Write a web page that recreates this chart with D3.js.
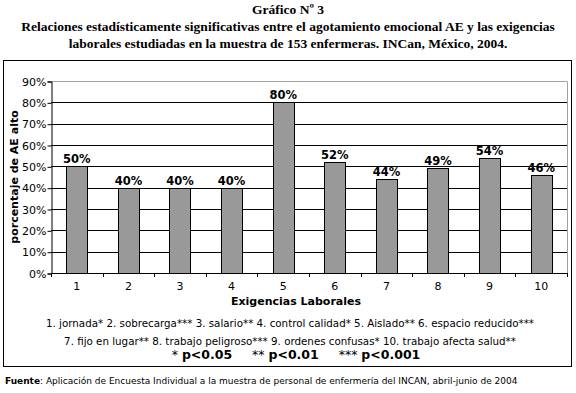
<!DOCTYPE html>
<html>
<head>
<meta charset="utf-8">
<script src="https://cdn.jsdelivr.net/npm/d3@7"></script>
<style>
  body { margin: 0; background: #fff; }
  svg { display: block; }
</style>
</head>
<body>
<svg id="chart" width="576" height="393"></svg>
<script>
// data
const categories = ['1', '2', '3', '4', '5', '6', '7', '8', '9', '10']
const values = [0.50, 0.40, 0.40, 0.40, 0.80, 0.52, 0.44, 0.49, 0.54, 0.46]
const yTicks = [0, 0.1, 0.2, 0.3, 0.4, 0.5, 0.6, 0.7, 0.8, 0.9]

const titleLines = [
  'Gráfico Nº 3',
  'Relaciones estadísticamente significativas entre el agotamiento emocional AE y las exigencias',
  'laborales estudiadas en la muestra de 153 enfermeras. INCan, México, 2004.'
]
const legendLines = [
  '1. jornada* 2. sobrecarga*** 3. salario** 4. control calidad* 5. Aislado** 6. espacio reducido***',
  '7. fijo en lugar** 8. trabajo peligroso*** 9. ordenes confusas* 10. trabajo afecta salud**'
]
const pLevels = [
  {stars: '*', label: 'p<0.05'},
  {stars: '**', label: 'p<0.01'},
  {stars: '***', label: 'p<0.001'}
]

const svg = d3.select('#chart')
const width = 576
const sans = 'DejaVu Sans, Verdana, sans-serif'

// plot area
const plotLeft = 51, plotRight = 567, plotTop = 81, plotBottom = 273

const x = d3.scaleBand()
  .domain(categories)
  .range([plotLeft, plotRight])
  .paddingInner(0.59)
  .paddingOuter(0.295)

const y = d3.scaleLinear()
  .domain([0, 0.9])
  .range([plotBottom, plotTop])

// titles
svg.append('g')
  .selectAll('text')
  .data(titleLines)
  .enter()
  .append('text')
  .attr('x', width / 2)
  .attr('y', (d, i) => 14 + i * 17)
  .attr('text-anchor', 'middle')
  .attr('font-family', 'Liberation Serif, Times New Roman, serif')
  .attr('font-weight', 'bold')
  .attr('font-size', 13.5)
  .text(d => d)

// outer frame
svg.append('rect')
  .attr('x', 3.5)
  .attr('y', 60.5)
  .attr('width', 568)
  .attr('height', 306)
  .attr('fill', 'none')
  .attr('stroke', '#000')

// gridlines (top one is the grey plot border)
svg.append('g')
  .selectAll('line')
  .data(yTicks.slice(1))
  .enter()
  .append('line')
  .attr('x1', plotLeft)
  .attr('x2', plotRight)
  .attr('y1', d => Math.round(y(d)) + 0.5)
  .attr('y2', d => Math.round(y(d)) + 0.5)
  .attr('stroke', d => d === 0.9 ? '#a0a0a0' : '#000')

// right plot border
svg.append('line')
  .attr('x1', plotRight + 0.5)
  .attr('x2', plotRight + 0.5)
  .attr('y1', Math.round(y(0.9)) + 0.5)
  .attr('y2', plotBottom)
  .attr('stroke', '#a0a0a0')

// bars
svg.append('g')
  .selectAll('rect')
  .data(values)
  .enter()
  .append('rect')
  .attr('x', (d, i) => Math.round(x(categories[i])) + 0.5)
  .attr('y', d => Math.round(y(d)) + 0.5)
  .attr('width', Math.round(x.bandwidth()))
  .attr('height', d => plotBottom - Math.round(y(d)))
  .attr('fill', '#999999')
  .attr('stroke', '#000')

// value labels
svg.append('g')
  .selectAll('text')
  .data(values)
  .enter()
  .append('text')
  .attr('x', (d, i) => x(categories[i]) + x.bandwidth() / 2)
  .attr('y', d => y(d) - 3)
  .attr('text-anchor', 'middle')
  .attr('font-family', sans)
  .attr('font-weight', 'bold')
  .attr('font-size', 11.5)
  .text(d => `${Math.round(d * 100)}%`)

// y axis
const yAxis = d3.axisLeft(y)
  .tickValues(yTicks)
  .tickFormat(d => `${Math.round(d * 100)}%`)
  .tickSize(4)
  .tickPadding(1)

svg.append('g')
  .attr('transform', `translate(${plotLeft + 0.5},0.5)`)
  .call(yAxis)
  .call(g => g.select('.domain').attr('stroke', '#000'))
  .call(g => g.selectAll('text')
    .attr('font-family', sans)
    .attr('font-size', 11)
    .attr('fill', '#000'))

// x axis: ticks between categories
const step = x.step()
svg.append('line')
  .attr('x1', plotLeft)
  .attr('x2', plotRight + 1)
  .attr('y1', plotBottom + 0.5)
  .attr('y2', plotBottom + 0.5)
  .attr('stroke', '#000')

svg.append('g')
  .selectAll('line')
  .data(d3.range(categories.length + 1))
  .enter()
  .append('line')
  .attr('x1', i => Math.round(plotLeft + i * step) + 0.5)
  .attr('x2', i => Math.round(plotLeft + i * step) + 0.5)
  .attr('y1', plotBottom)
  .attr('y2', plotBottom + 4)
  .attr('stroke', '#000')

svg.append('g')
  .selectAll('text')
  .data(categories)
  .enter()
  .append('text')
  .attr('x', d => x(d) + x.bandwidth() / 2)
  .attr('y', 290)
  .attr('text-anchor', 'middle')
  .attr('font-family', sans)
  .attr('font-size', 11)
  .text(d => d)

// axis titles
svg.append('text')
  .attr('x', 296)
  .attr('y', 305)
  .attr('text-anchor', 'middle')
  .attr('font-family', sans)
  .attr('font-weight', 'bold')
  .attr('font-size', 11)
  .text('Exigencias Laborales')

svg.append('text')
  .attr('transform', `translate(18,${(plotTop + plotBottom) / 2}) rotate(-90)`)
  .attr('text-anchor', 'middle')
  .attr('font-family', sans)
  .attr('font-weight', 'bold')
  .attr('font-size', 11)
  .text('porcentaje de AE alto')

// category legend
svg.append('g')
  .selectAll('text')
  .data(legendLines)
  .enter()
  .append('text')
  .attr('x', 290)
  .attr('y', (d, i) => 327 + i * 18)
  .attr('text-anchor', 'middle')
  .attr('font-family', sans)
  .attr('font-size', 10.3)
  .text(d => d)

// significance levels
const pText = svg.append('text')
  .attr('x', 296)
  .attr('y', 359)
  .attr('text-anchor', 'middle')
  .attr('font-family', sans)
  .attr('font-size', 12.5)

pLevels.forEach((p, i) => {
  pText.append('tspan')
    .text((i > 0 ? '\u00a0\u00a0\u00a0\u00a0\u00a0' : '') + p.stars + '\u00a0')
  pText.append('tspan')
    .attr('font-weight', 'bold')
    .text(p.label)
})

// source note
const source = svg.append('text')
  .attr('x', 5)
  .attr('y', 384)
  .attr('font-family', sans)
  .attr('font-size', 9)

source.append('tspan')
  .attr('font-weight', 'bold')
  .text('Fuente')
source.append('tspan')
  .text(': Aplicación de Encuesta Individual a la muestra de personal de enfermería del INCAN, abril-junio de 2004')
</script>
</body>
</html>
